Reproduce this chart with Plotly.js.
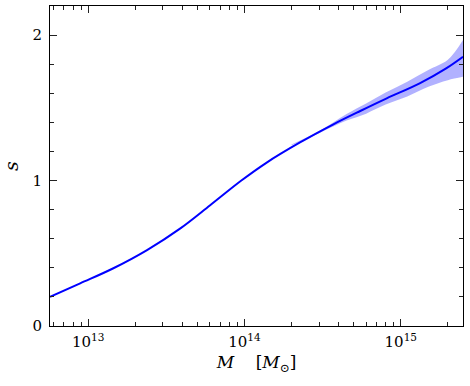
<!DOCTYPE html>
<html>
<head>
<meta charset="utf-8">
<script src="https://cdn.plot.ly/plotly-3.0.1.min.js"></script>
<style>
  html, body { margin: 0; padding: 0; background: #fff; }
  #chart { width: 470px; height: 386px; }
</style>
</head>
<body>
<div id="chart"></div>
<script>
// mass values (solar masses) and the mean s curve
const massM = [5.7e12, 8.89e12, 1.45e13, 2.38e13, 3.89e13, 6.03e13, 9.55e13, 1.38e14, 2.25e14, 3.68e14, 5.5e14, 8.13e14, 1.32e15, 1.95e15, 2.5e15];
const sMean = [0.20, 0.293, 0.397, 0.522, 0.671, 0.83, 1.0, 1.122, 1.260, 1.385, 1.478, 1.565, 1.668, 1.771, 1.851];

// uncertainty band
const bandM  = [2e14, 3e14, 4.5e14, 6e14, 8e14, 1.1e15, 1.5e15, 2e15, 2.5e15];
const bandLo = [1.243, 1.326, 1.412, 1.46, 1.522, 1.578, 1.645, 1.69, 1.713];
const bandHi = [1.247, 1.340, 1.458, 1.53, 1.605, 1.68, 1.76, 1.83, 1.966];

const xTicks = [1e13, 1e14, 1e15];
const xTickText = ['10<sup>13</sup>', '10<sup>14</sup>', '10<sup>15</sup>'];
const yTicks = [0, 1, 2];

const FONT = '"DejaVu Serif", "Liberation Serif", "Times New Roman", serif';

const bandLower = {
    x: bandM, y: bandLo,
    type: 'scatter', mode: 'lines',
    line: { width: 0, shape: 'spline' },
    hoverinfo: 'skip', showlegend: false
};
const bandUpper = {
    x: bandM, y: bandHi,
    type: 'scatter', mode: 'lines',
    line: { width: 0, shape: 'spline' },
    fill: 'tonexty', fillcolor: 'rgba(60,60,255,0.4)',
    hoverinfo: 'skip', showlegend: false
};
const meanLine = {
    x: massM, y: sMean,
    type: 'scatter', mode: 'lines',
    line: { color: '#0000ff', width: 2, shape: 'spline', smoothing: 1 },
    showlegend: false
};

const axisCommon = {
    showline: true, linecolor: '#000', linewidth: 1,
    mirror: 'allticks', ticks: 'inside', ticklen: 7, tickwidth: 1, tickcolor: '#222',
    showgrid: false, zeroline: false,
    tickfont: { family: FONT, size: 15, color: '#000' }
};

const layout = {
    width: 470, height: 386,
    margin: { l: 50, r: 7, t: 6, b: 60 },
    paper_bgcolor: '#fff', plot_bgcolor: '#fff',
    font: { family: FONT, color: '#000' },
    xaxis: Object.assign({}, axisCommon, {
        type: 'log',
        range: [Math.log10(5.7e12), Math.log10(2.5e15)],
        tickmode: 'array', tickvals: xTicks, ticktext: xTickText,
        ticklabelstandoff: 2,
        minor: { ticks: 'inside', ticklen: 4, tickcolor: '#222', dtick: 'D1', showgrid: false },
        title: { text: '<i>M</i>&nbsp;&nbsp;&nbsp;&nbsp;[<i>M</i><sub>⊙</sub>]', font: { family: FONT, size: 17 }, standoff: 6 }
    }),
    yaxis: Object.assign({}, axisCommon, {
        range: [0, 2.2],
        tickmode: 'array', tickvals: yTicks,
        ticklabelstandoff: 4,
        minor: { ticks: 'inside', ticklen: 4, tickcolor: '#222', dtick: 0.2, showgrid: false },
        title: { text: '<i>s</i>', font: { family: FONT, size: 19 }, standoff: 16 }
    })
};

Plotly.newPlot('chart', [bandLower, bandUpper, meanLine], layout, { displayModeBar: false, staticPlot: true });
</script>
</body>
</html>
